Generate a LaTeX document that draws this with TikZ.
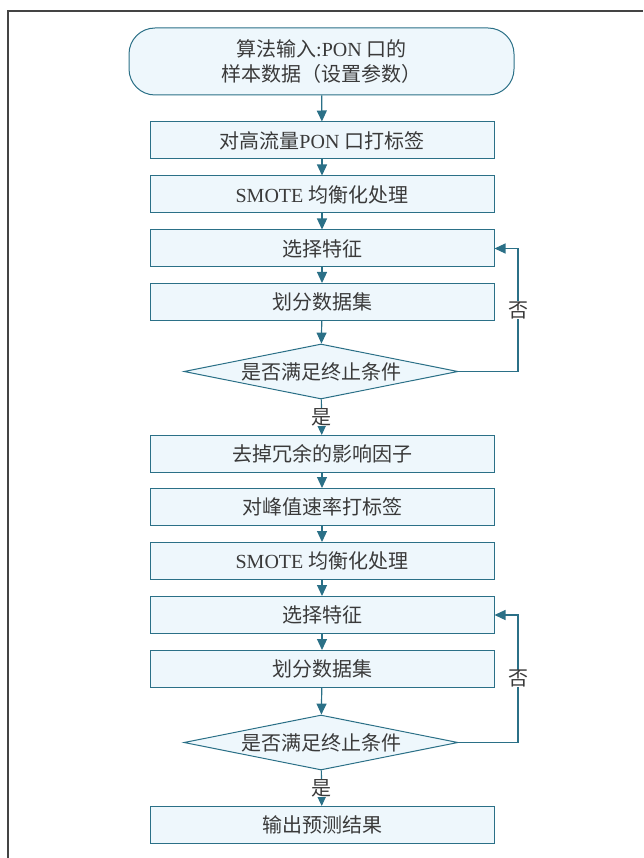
\documentclass[tikz,border=0pt]{standalone}
\usepackage{fontspec}
\setmainfont{Liberation Serif}
\newfontfamily\cjk{Noto Sans CJK SC}
\usetikzlibrary{arrows.meta,shapes.geometric}
\definecolor{edgec}{HTML}{2B7087}
\definecolor{boxfill}{HTML}{EEF7FC}
\definecolor{txtc}{HTML}{3A3A3A}
\definecolor{framec}{HTML}{444444}
\begin{document}
\begin{tikzpicture}[x=1pt,y=-1pt,
  basefont/.style={font=\cjk\fontsize{20}{25}\selectfont,text=txtc},
  procbox/.style={basefont,draw=edgec,fill=boxfill,line width=1pt,minimum width=344pt,minimum height=37pt,inner sep=0pt},
  startbox/.style={basefont,draw=edgec,fill=boxfill,line width=1pt,minimum width=385pt,minimum height=67pt,inner sep=0pt,rounded corners=26pt,align=center},
  decision/.style={basefont,diamond,draw=edgec,fill=boxfill,line width=1pt,shape aspect=5,minimum width=274pt,minimum height=55pt,inner sep=0pt},
  arr/.style={draw=edgec,line width=1.2pt,-{Triangle[width=10pt,length=11pt]}},
  lab/.style={basefont,fill=white,inner sep=0pt}
]
\useasboundingbox (0,0) rectangle (643,858);
\draw[framec,line width=1.5pt] (8,858) -- (8,11) -- (643,11);

\node[startbox] (s) at (321.5,61.5) {算法输入{\rmfamily :PON }口的\\样本数据（设置参数）};
\node[procbox] (b1) at (322,140.5) {对高流量{\rmfamily PON }口打标签};
\node[procbox] (b2) at (322,194.5) {{\rmfamily SMOTE }均衡化处理};
\node[procbox] (b3) at (322,248.5) {选择特征};
\node[procbox] (b4) at (322,302) {划分数据集};
\node[decision] (d1) at (321,371.5) {是否满足终止条件};
\node[procbox] (b5) at (322,454) {去掉冗余的影响因子};
\node[procbox] (b6) at (322,507) {对峰值速率打标签};
\node[procbox] (b7) at (322,561) {{\rmfamily SMOTE }均衡化处理};
\node[procbox] (b8) at (322,615) {选择特征};
\node[procbox] (b9) at (322,669) {划分数据集};
\node[decision] (d2) at (321,742.5) {是否满足终止条件};
\node[procbox] (b10) at (322,825) {输出预测结果};

\coordinate (r1) at (518,371.5);
\coordinate (r2) at (518,742.5);

\draw[arr] (s) -- (b1);
\draw[arr] (b1) -- (b2);
\draw[arr] (b2) -- (b3);
\draw[arr] (b3) -- (b4);
\draw[arr] (b4) -- (d1);
\draw[arr] (d1) -- (b5) node[lab,midway] {是};
\draw[arr] (d1.east) -- (r1) |- (b3.east) node[lab,pos=0.25] {否};
\draw[arr] (b5) -- (b6);
\draw[arr] (b6) -- (b7);
\draw[arr] (b7) -- (b8);
\draw[arr] (b8) -- (b9);
\draw[arr] (b9) -- (d2);
\draw[arr] (d2) -- (b10) node[lab,midway] {是};
\draw[arr] (d2.east) -- (r2) |- (b8.east) node[lab,pos=0.25] {否};
\end{tikzpicture}
\end{document}
